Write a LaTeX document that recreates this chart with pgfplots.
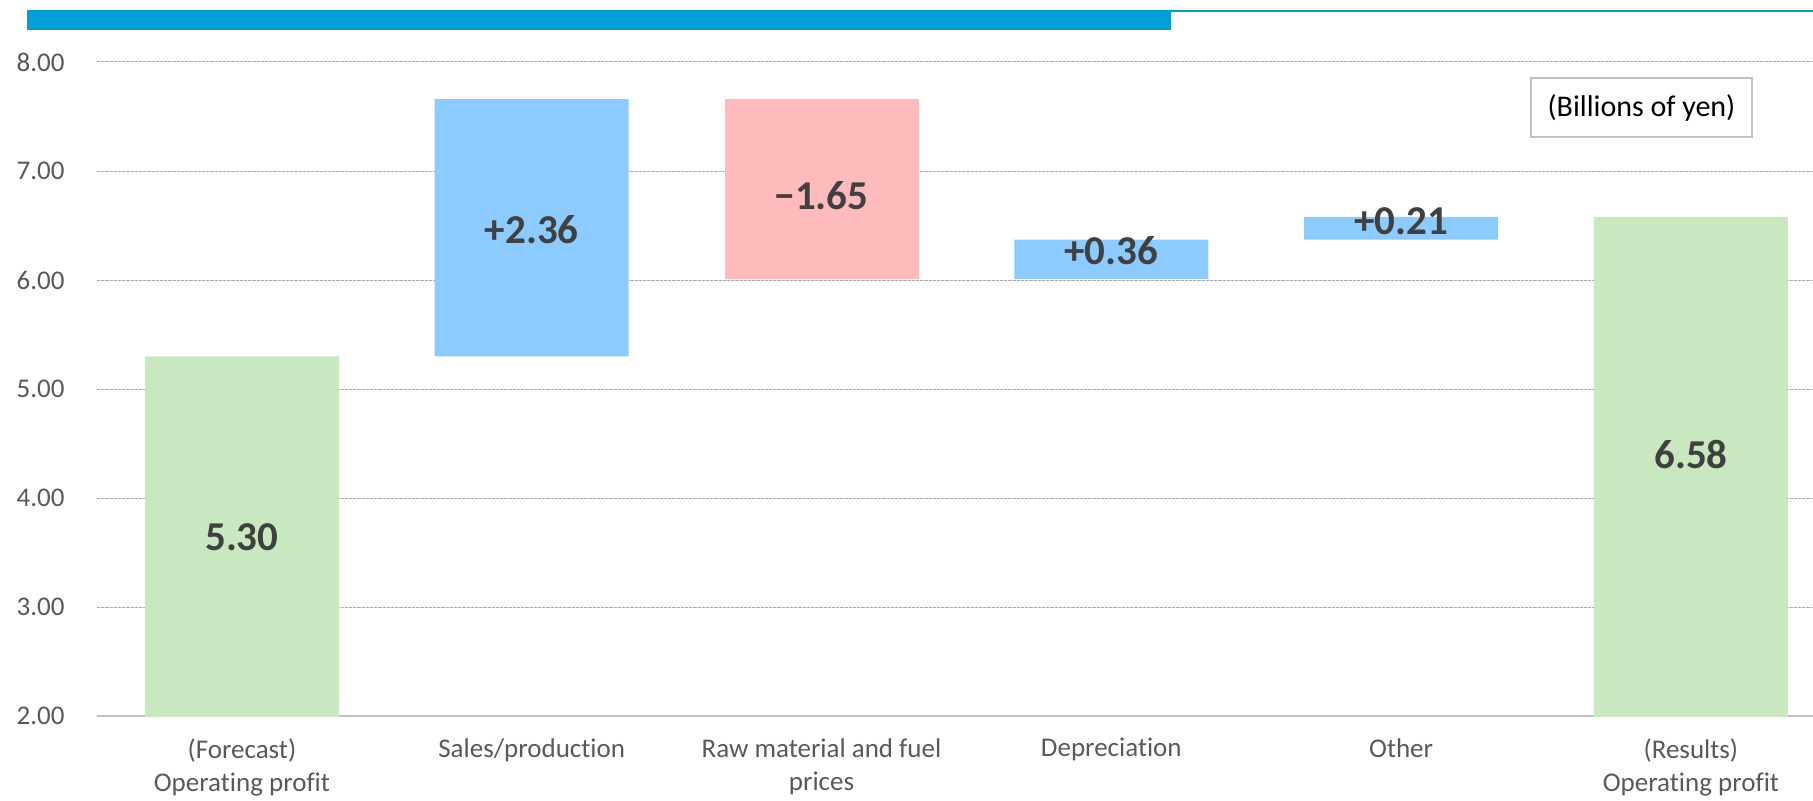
\documentclass[border=0pt]{standalone}
\usepackage{fontspec}
\setmainfont{Carlito}[Ligatures=NoCommon]
\usepackage{pgfplots}
\pgfplotsset{compat=1.18}

\definecolor{banner}{HTML}{009FD9}
\definecolor{totalgreen}{HTML}{CAE8C0}
\definecolor{gainblue}{HTML}{8BCBFF}
\definecolor{losspink}{HTML}{FFBBBB}
\definecolor{tickgray}{HTML}{595959}
\definecolor{labelgray}{HTML}{404040}
\definecolor{gridgray}{HTML}{ABABAB}
\definecolor{axisgray}{HTML}{C0C0C0}

\tikzset{lbl/.style={font=\bfseries\fontsize{20.5}{24}\selectfont, text=labelgray, inner sep=0pt}}

\begin{document}
\begin{tikzpicture}[x=1pt,y=1pt]
\useasboundingbox (0,0) rectangle (906.5,400);
% header band
\fill[banner] (13.5,385) rectangle (585.5,395);
\draw[banner, line width=0.8pt] (585.5,394.6) -- (906.5,394.6);

\begin{axis}[
  at={(48.5pt,42pt)}, anchor=south west,
  scale only axis, width=869.4pt, height=327pt,
  xmin=-0.5, xmax=5.5, ymin=2, ymax=8,
  ybar stacked, bar width=97pt,
  axis x line*=bottom, axis y line*=left,
  x axis line style={draw=axisgray, line width=1pt, -},
  y axis line style={draw=none},
  xtick={0,...,5}, ytick={2,3,...,8},
  major tick style={draw=none},
  xticklabels={{(Forecast)\\Operating profit}, Sales/production,
    {Raw material and fuel\\prices}, Depreciation, Other,
    {(Results)\\Operating profit}},
  tick label style={font=\fontsize{13.5}{16.5}\selectfont, text=tickgray},
  xticklabel style={align=center, anchor=north, inner sep=0pt, yshift=-11pt},
  yticklabel style={anchor=east, inner sep=0pt, xshift=-16pt},
  /pgf/number format/fixed, /pgf/number format/fixed zerofill,
  /pgf/number format/precision=2,
  /pgf/number format/assume math mode=true,
  ymajorgrids,
  major grid style={draw=gridgray, line width=0.5pt, dash pattern=on 1.6pt off 0.5pt},
]
% invisible base of each floating step
\addplot[draw=none, fill=none] coordinates {(0,0) (1,5.30) (2,6.01) (3,6.01) (4,6.37) (5,0)};
% totals
\addplot[draw=none, fill=totalgreen] coordinates {(0,5.30) (1,0) (2,0) (3,0) (4,0) (5,6.58)};
% increases
\addplot[draw=none, fill=gainblue] coordinates {(0,0) (1,2.36) (2,0) (3,0.36) (4,0.21) (5,0)};
% decreases
\addplot[draw=none, fill=losspink] coordinates {(0,0) (1,0) (2,1.65) (3,0) (4,0) (5,0)};

% anchor points for the value labels
\coordinate (v0) at (axis cs:0,3.64);
\coordinate (v1) at (axis cs:1,6.46);
\coordinate (v2) at (axis cs:2,6.77);
\coordinate (v3) at (axis cs:3,6.27);
\coordinate (v4) at (axis cs:4,6.54);
\coordinate (v5) at (axis cs:5,4.40);
\end{axis}

% value labels, set above the bars
\node[lbl] at (v0) {5.30};
\node[lbl] at (v1) {+2.36};
\node[lbl] at (v2) {−1.65};
\node[lbl] at (v3) {+0.36};
\node[lbl] at (v4) {+0.21};
\node[lbl] at (v5) {6.58};

% unit note
\draw[axisgray, line width=1pt, fill=white] (765.5,331.5) rectangle (876,361);
\node[font=\fontsize{15}{18}\selectfont, text=black] at (820.75,346.25) {(Billions of yen)};
\end{tikzpicture}
\end{document}
